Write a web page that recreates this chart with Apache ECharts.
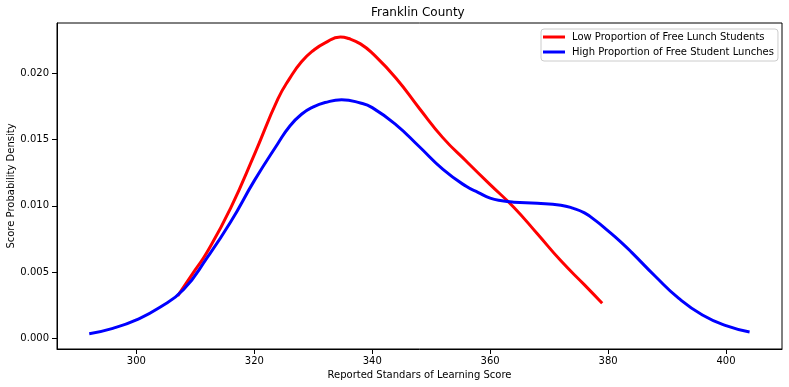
<!DOCTYPE html>
<html>
<head>
<meta charset="utf-8">
<script src="https://cdn.jsdelivr.net/npm/echarts@6/dist/echarts.min.js"></script>
<style>html,body{margin:0;padding:0;background:#fff;}#c{width:789px;height:387px;}</style>
</head>
<body>
<div id="c"></div>
<script>
const titleText = 'Franklin County';
const xName = 'Reported Standars of Learning Score';
const yName = 'Score Probability Density';
const lowName = 'Low Proportion of Free Lunch Students';
const highName = 'High Proportion of Free Student Lunches';

const xTicks = [300, 320, 340, 360, 380, 400];
const yTicks = [0, 0.005, 0.010, 0.015, 0.020];

const lowX = [307, 310, 312, 316, 320, 324, 326, 328, 330, 332, 334.6, 336, 338, 340, 344, 348, 352, 356, 360, 364, 368, 372, 376, 379];
const lowY = [0.00322, 0.00520, 0.00652, 0.00985, 0.01386, 0.01805, 0.01960, 0.02085, 0.02170, 0.02228, 0.02272, 0.02260, 0.02220, 0.02150, 0.01963, 0.01733, 0.01512, 0.01334, 0.01160, 0.00990, 0.00790, 0.00586, 0.00405, 0.00267];

const highX = [292, 296, 300, 304, 308, 312, 316, 320, 324, 326, 328, 330, 332, 334.8, 338, 340, 344, 348, 352, 356, 358, 360, 362, 364, 368, 372, 374, 376, 378, 380, 382, 384, 388, 392, 396, 400, 404];
const highY = [0.00037, 0.00078, 0.00142, 0.00236, 0.00370, 0.00610, 0.00880, 0.01190, 0.01470, 0.01600, 0.01690, 0.01745, 0.01778, 0.01799, 0.01775, 0.01740, 0.01612, 0.01445, 0.01275, 0.01145, 0.01100, 0.01058, 0.01038, 0.01028, 0.01020, 0.01005, 0.00983, 0.00947, 0.00885, 0.00812, 0.00735, 0.00650, 0.00470, 0.00303, 0.00178, 0.00098, 0.00050];

const zip = (xs, ys) => xs.map((x, i) => [x, ys[i]]);
const FONT = 'DejaVu Sans';

const chart = echarts.init(document.getElementById('c'), null, {renderer: 'canvas'});
chart.setOption({
  animation: false,
  backgroundColor: '#fff',
  textStyle: {fontFamily: FONT},
  title: {
    text: titleText,
    left: 366, top: 2,
    textStyle: {fontFamily: FONT, fontSize: 12, fontWeight: 'normal', color: '#000'}
  },
  grid: {
    left: 57, right: 7, top: 23, bottom: 38,
    containLabel: false, outerBoundsMode: 'none',
    show: true, borderColor: '#000', borderWidth: 1, backgroundColor: 'transparent'
  },
  legend: {
    orient: 'vertical',
    left: 541, top: 29,
    padding: [2, 4, 3, 2],
    itemGap: 3,
    itemWidth: 22, itemHeight: 3,
    icon: 'rect',
    backgroundColor: '#fff',
    borderColor: '#ccc', borderWidth: 1, borderRadius: 3,
    textStyle: {fontFamily: FONT, fontSize: 10, color: '#000', padding: [0, 0, 0, 2], lineHeight: 12},
    data: [lowName, highName]
  },
  xAxis: {
    type: 'value', min: 286.53, max: 409.5,
    name: xName, nameLocation: 'middle', nameGap: 20,
    nameTextStyle: {fontFamily: FONT, fontSize: 10, color: '#000'},
    axisLine: {show: true, onZero: false, lineStyle: {color: '#000', width: 1}},
    axisTick: {show: true, length: 5, lineStyle: {color: '#000'}, customValues: xTicks},
    axisLabel: {fontFamily: FONT, fontSize: 10, color: '#000', margin: 7, customValues: xTicks},
    splitLine: {show: false}
  },
  yAxis: {
    type: 'value', min: -0.000777, max: 0.02377,
    name: yName, nameLocation: 'middle', nameGap: 41, nameMoveOverlap: false,
    nameTextStyle: {fontFamily: FONT, fontSize: 10, color: '#000'},
    axisLine: {show: true, onZero: false, lineStyle: {color: '#000', width: 1}},
    axisTick: {show: true, length: 5, lineStyle: {color: '#000'}, customValues: yTicks},
    axisLabel: {fontFamily: FONT, fontSize: 10, color: '#000', margin: 8, customValues: yTicks,
      formatter: v => v.toFixed(3)},
    splitLine: {show: false}
  },
  series: [
    {name: lowName, type: 'line', data: zip(lowX, lowY), smooth: 0.5,
     showSymbol: false, symbol: 'none', lineStyle: {color: '#ff0000', width: 3}, itemStyle: {color: '#ff0000'}},
    {name: highName, type: 'line', data: zip(highX, highY), smooth: 0.5,
     showSymbol: false, symbol: 'none', lineStyle: {color: '#0000ff', width: 3}, itemStyle: {color: '#0000ff'}}
  ]
});
</script>
</body>
</html>
